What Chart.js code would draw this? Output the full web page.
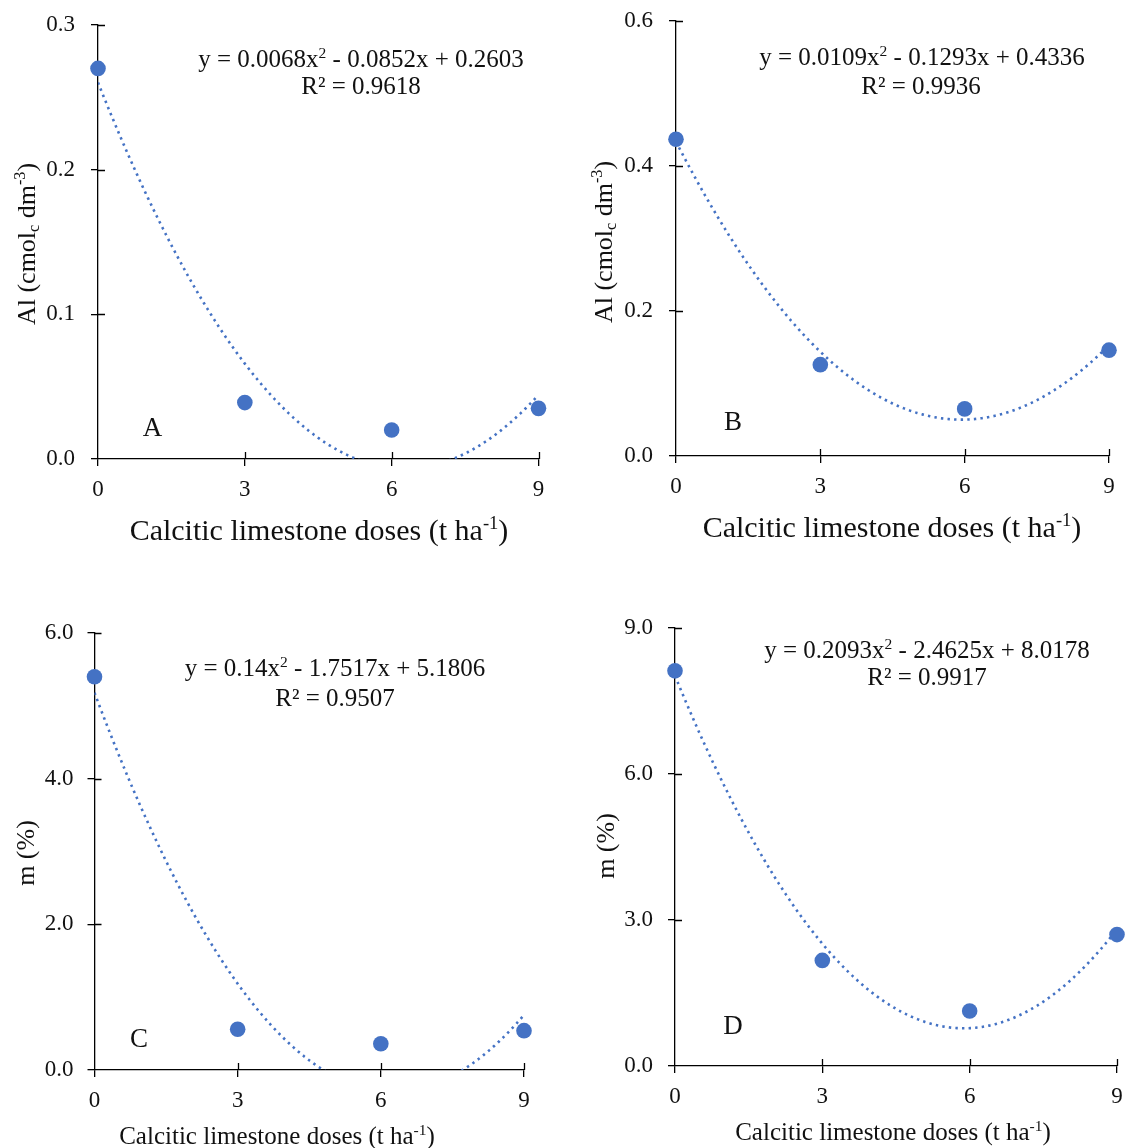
<!DOCTYPE html>
<html><head><meta charset="utf-8">
<script src="https://cdn.jsdelivr.net/npm/chart.js@4.4.1/dist/chart.umd.min.js"></script>
<style>
html,body{margin:0;padding:0;background:#fff;}
body{width:1127px;height:1148px;position:relative;overflow:hidden;}
.panel{position:absolute;}
</style></head><body>
<div class="panel" style="left:0px;top:0px;width:563px;height:575px"><canvas id="cA"></canvas></div>
<div class="panel" style="left:563px;top:0px;width:564px;height:575px"><canvas id="cB"></canvas></div>
<div class="panel" style="left:0px;top:575px;width:563px;height:573px"><canvas id="cC"></canvas></div>
<div class="panel" style="left:563px;top:575px;width:564px;height:573px"><canvas id="cD"></canvas></div>
<script>
// ---- data ----
const doses = [0, 3, 6, 9];
const xTickValues = [0, 3, 6, 9];
const alA = [0.270, 0.039, 0.020, 0.035];
const alB = [0.437, 0.126, 0.065, 0.146];
const mC = [5.40, 0.56, 0.36, 0.54];
const mD = [8.12, 2.17, 1.13, 2.70];
const yTicksA = [0, 0.1, 0.2, 0.3];
const yTicksB = [0, 0.2, 0.4, 0.6];
const yTicksC = [0, 2, 4, 6];
const yTicksD = [0, 3, 6, 9];
// regression coefficients [a, b, c] for y = a·x² + b·x + c (as printed in the chart)
const coefA = [0.0068, -0.0852, 0.2603];
const coefB = [0.0109, -0.1293, 0.4336];
const coefC = [0.14, -1.7517, 5.1806];
const coefD = [0.2093, -2.4625, 8.0178];
const eqA = ['y = 0.0068x', '2', ' - 0.0852x + 0.2603'];
const eqB = ['y = 0.0109x', '2', ' - 0.1293x + 0.4336'];
const eqC = ['y = 0.14x', '2', ' - 1.7517x + 5.1806'];
const eqD = ['y = 0.2093x', '2', ' - 2.4625x + 8.0178'];
const r2A = 'R² = 0.9618';
const r2B = 'R² = 0.9936';
const r2C = 'R² = 0.9507';
const r2D = 'R² = 0.9917';
const panelLetters = ['A', 'B', 'C', 'D'];
const xTitleParts = ['Calcitic limestone doses (t ha', '-1', ')'];
const yTitleAlParts = ['Al (cmol', 'c', ' dm', '-3', ')'];
const yTitleM = 'm (%)';

// ---- styling ----
const FONT = '"Liberation Serif", "Times New Roman", serif';
const BLUE = '#4472C4';
const INK = '#111111';

const eqSegs = e => [[e[0], 0], [e[1], 1], [e[2], 0]];
const xTitleSegs = [[xTitleParts[0], 0], [xTitleParts[1], 1], [xTitleParts[2], 0]];
const yTitleAlSegs = [[yTitleAlParts[0], 0], [yTitleAlParts[1], -1], [yTitleAlParts[2], 0], [yTitleAlParts[3], 1], [yTitleAlParts[4], 0]];

const panels = [
  { canvas: 'cA', box: [0, 0, 563, 575], area: [98, 25, 538.5, 459], values: alA, yTicks: yTicksA, coef: coefA, tickPadY: 16,
    texts: [
      { segs: eqSegs(eqA), x: 361, y: 59, size: 25 },
      { segs: [[r2A, 0]], x: 361, y: 86, size: 25 },
      { segs: [[panelLetters[0], 0]], x: 152.5, y: 427, size: 27 },
      { segs: xTitleSegs, x: 319, y: 530, size: 30 },
      { segs: yTitleAlSegs, x: 26, y: 244, size: 26, rot: -Math.PI / 2 }
    ] },
  { canvas: 'cB', box: [563, 0, 564, 575], area: [676, 21, 1109, 456], values: alB, yTicks: yTicksB, coef: coefB, tickPadY: 16,
    texts: [
      { segs: eqSegs(eqB), x: 922, y: 57, size: 25 },
      { segs: [[r2B, 0]], x: 921, y: 86, size: 25 },
      { segs: [[panelLetters[1], 0]], x: 733, y: 421, size: 27 },
      { segs: xTitleSegs, x: 892, y: 527, size: 30 },
      { segs: yTitleAlSegs, x: 603, y: 242, size: 26, rot: -Math.PI / 2 }
    ] },
  { canvas: 'cC', box: [0, 575, 563, 573], area: [94.5, 633, 524, 1070], values: mC, yTicks: yTicksC, coef: coefC, tickPadY: 14,
    texts: [
      { segs: eqSegs(eqC), x: 335, y: 668, size: 25 },
      { segs: [[r2C, 0]], x: 335, y: 698, size: 25 },
      { segs: [[panelLetters[2], 0]], x: 139, y: 1038, size: 27 },
      { segs: xTitleSegs, x: 277, y: 1136, size: 25 },
      { segs: [[yTitleM, 0]], x: 25, y: 853, size: 26, rot: -Math.PI / 2 }
    ] },
  { canvas: 'cD', box: [563, 575, 564, 573], area: [675, 628, 1117, 1066], values: mD, yTicks: yTicksD, coef: coefD, tickPadY: 15,
    texts: [
      { segs: eqSegs(eqD), x: 927, y: 650, size: 25 },
      { segs: [[r2D, 0]], x: 927, y: 677, size: 25 },
      { segs: [[panelLetters[3], 0]], x: 733, y: 1025, size: 27 },
      { segs: xTitleSegs, x: 893, y: 1132, size: 25 },
      { segs: [[yTitleM, 0]], x: 605, y: 846, size: 26, rot: -Math.PI / 2 }
    ] }
];

function drawRich(ctx, segs, size) {
  const widths = segs.map(([t, m]) => { ctx.font = (m ? size * 0.62 : size) + 'px ' + FONT; return ctx.measureText(t).width; });
  const total = widths.reduce((a, b) => a + b, 0);
  let x = -total / 2;
  const base = size * 0.33;
  ctx.textAlign = 'left';
  ctx.textBaseline = 'alphabetic';
  segs.forEach(([t, m], i) => {
    ctx.font = (m ? size * 0.62 : size) + 'px ' + FONT;
    const dy = m === 1 ? -size * 0.38 : (m === -1 ? size * 0.18 : 0);
    ctx.fillText(t, x, base + dy);
    x += widths[i];
  });
}

function zeroPad(s) { s.paddingLeft = 0; s.paddingRight = 0; s.paddingTop = 0; s.paddingBottom = 0; }

function makeChart(p) {
  const [bx, by, bw, bh] = p.box;
  const [al, at, ar, ab] = p.area;
  const yMax = p.yTicks[p.yTicks.length - 1];

  const trendPlugin = {
    id: 'trend',
    beforeDatasetsDraw(chart) {
      const { ctx, chartArea: a, scales: { x, y } } = chart;
      const [qa, qb, qc] = p.coef;
      ctx.save();
      ctx.beginPath();
      ctx.rect(a.left, a.top, a.right - a.left, a.bottom - a.top);
      ctx.clip();
      ctx.setLineDash([2.4, 4.2]);
      ctx.lineWidth = 2.6;
      ctx.strokeStyle = BLUE;
      ctx.beginPath();
      const x0 = x.getPixelForValue(doses[0]);
      const x1 = x.getPixelForValue(doses[doses.length - 1]);
      for (let px = x0; px <= x1 + 0.01; px += 1) {
        const v = x.getValueForPixel(px);
        const yv = qa * v * v + qb * v + qc;
        const py = y.getPixelForValue(yv);
        if (px === x0) ctx.moveTo(px, py); else ctx.lineTo(px, py);
      }
      ctx.stroke();
      ctx.restore();
    }
  };

  const innerTicks = {
    id: 'innerTicks',
    afterDraw(chart) {
      const { ctx, scales: { x, y } } = chart;
      ctx.save();
      ctx.strokeStyle = '#000';
      ctx.lineWidth = 1.3;
      ctx.beginPath();
      const axX = x.getPixelForValue(0);
      const axY = y.getPixelForValue(0);
      p.yTicks.forEach(v => { if (v === 0) return; const py = Math.round(y.getPixelForValue(v)) + 0.5; ctx.moveTo(axX, py); ctx.lineTo(axX + 7, py); });
      xTickValues.forEach(v => { if (v === 0) return; const px = Math.round(x.getPixelForValue(v)) + 0.5; ctx.moveTo(px, axY); ctx.lineTo(px, axY - 7); });
      ctx.stroke();
      ctx.restore();
    }
  };

  const annot = {
    id: 'annot',
    afterDraw(chart) {
      const ctx = chart.ctx;
      p.texts.forEach(it => {
        ctx.save();
        ctx.translate(it.x - bx, it.y - by);
        if (it.rot) ctx.rotate(it.rot);
        ctx.fillStyle = INK;
        drawRich(ctx, it.segs, it.size);
        ctx.restore();
      });
    }
  };

  new Chart(document.getElementById(p.canvas), {
    type: 'scatter',
    data: {
      datasets: [{
        data: doses.map((d, i) => ({ x: d, y: p.values[i] })),
        backgroundColor: BLUE,
        borderColor: BLUE,
        borderWidth: 0,
        pointRadius: 7.8,
        pointHoverRadius: 7.8,
        clip: false
      }]
    },
    options: {
      responsive: true,
      maintainAspectRatio: false,
      animation: false,
      events: [],
      layout: { padding: { left: 0, top: at - by, right: bx + bw - ar, bottom: 0 } },
      plugins: { legend: { display: false }, tooltip: { enabled: false } },
      scales: {
        x: {
          type: 'linear', min: 0, max: 9,
          afterBuildTicks: s => { s.ticks = xTickValues.map(v => ({ value: v })); },
          afterFit: s => { s.height = by + bh - ab; zeroPad(s); },
          grid: { display: true, drawOnChartArea: false, drawTicks: true, tickLength: 7, color: '#000', lineWidth: 1.3 },
          border: { display: true, color: '#000', width: 1.3 },
          ticks: { padding: 10, color: INK, font: { family: FONT, size: 23 }, callback: v => String(v), maxRotation: 0 }
        },
        y: {
          type: 'linear', min: 0, max: yMax,
          afterBuildTicks: s => { s.ticks = p.yTicks.map(v => ({ value: v })); },
          afterFit: s => { s.width = al - bx; zeroPad(s); },
          grid: { display: true, drawOnChartArea: false, drawTicks: true, tickLength: 7, color: '#000', lineWidth: 1.3 },
          border: { display: true, color: '#000', width: 1.3 },
          ticks: { padding: p.tickPadY, color: INK, font: { family: FONT, size: 23 }, callback: v => Number(v).toFixed(1) }
        }
      }
    },
    plugins: [trendPlugin, innerTicks, annot]
  });
}

panels.forEach(makeChart);
</script>
</body></html>
